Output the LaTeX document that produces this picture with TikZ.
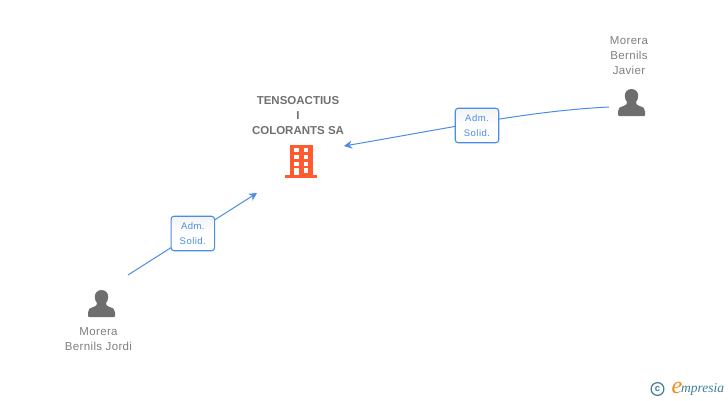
\documentclass[tikz,border=0pt]{standalone}
\usepackage{fontspec}
\setmainfont{Liberation Sans}
\newfontfamily\logofont{Liberation Serif}
\usetikzlibrary{arrows.meta}
\definecolor{linkblue}{HTML}{4A8CE6}
\definecolor{labelgrey}{HTML}{7F7F7F}
\definecolor{titlegrey}{HTML}{707070}
\definecolor{icongrey}{HTML}{6E6E6E}
\definecolor{buildorange}{HTML}{FF5A30}
\definecolor{logoteal}{HTML}{3E7F96}
\definecolor{logoorange}{HTML}{F08A1D}
\definecolor{badgetop}{HTML}{F1F3F6}
\tikzset{
  x=1pt,y=-1pt,
  every node/.style={inner sep=0pt,outer sep=0pt},
  link/.style={draw=linkblue,line width=1pt},
  linktip/.style={link,-{Stealth[length=8pt,width=8pt]}},
  badge/.style={draw=linkblue,line width=1.1pt,rounded corners=3pt,top color=badgetop,bottom color=white,middle color=white,
    minimum width=43.5pt,minimum height=34.5pt,align=center,text=linkblue,
    font=\fontsize{9.5}{15}\selectfont\addfontfeature{LetterSpace=5}},
  person/.style={align=center,text=labelgrey,font=\fontsize{11.5}{15}\selectfont\addfontfeature{LetterSpace=3}},
  title/.style={align=center,text=titlegrey,font=\fontsize{11.5}{15.3}\selectfont\bfseries},
  personicon/.pic={
    \fill[icongrey] (0,-13.5) .. controls (-4.5,-13.5) and (-6.7,-10) .. (-6.7,-6.5)
      .. controls (-6.7,-3.5) and (-5.5,-1.5) .. (-4.5,-0.5)
      .. controls (-4.5,1.5) and (-5,2.5) .. (-8,3.5)
      .. controls (-12,4.5) and (-13.5,6) .. (-13.5,9)
      -- (-13.5,12.5) .. controls (-13.5,13.2) and (-13,13.5) .. (-12.5,13.5)
      -- (12.5,13.5) .. controls (13,13.5) and (13.5,13.2) .. (13.5,12.5)
      -- (13.5,9)
      .. controls (13.5,6) and (12,4.5) .. (8,3.5)
      .. controls (5,2.5) and (4.5,1.5) .. (4.5,-0.5)
      .. controls (5.5,-1.5) and (6.7,-3.5) .. (6.7,-6.5)
      .. controls (6.7,-10) and (4.5,-13.5) .. (0,-13.5) -- cycle;
  },
}
\begin{document}
\begin{tikzpicture}
\useasboundingbox (0,0) rectangle (728,400);

% building
\fill[buildorange] (290,144.5) rectangle (312.8,175);
\fill[buildorange] (285.3,175) rectangle (317.3,178);
\foreach \yy/\hh in {147.7/4.6,154.7/4.3,161.7/3.8}{
  \fill[white] (294,\yy) rectangle (298.7,{\yy+\hh});
  \fill[white] (303.7,\yy) rectangle (308.3,{\yy+\hh});
}
\fill[white] (294,168) rectangle (298.7,175);
\fill[white] (303.7,168) rectangle (308.3,172.7);

% persons
\pic at (631.5,102.5) {personicon};
\pic at (101.5,303.5) {personicon};

% anchors
\coordinate (javierEnd) at (609,107);
\coordinate (jordiEnd) at (128,275);
\coordinate (companyRight) at (344,146);
\coordinate (companyBelow) at (257,193);

% texts
\node[title] (company) at (298,115.5) {TENSOACTIUS\\I\\COLORANTS SA};
\node[person] (javier) at (629,55.8) {Morera\\Bernils\\Javier};
\node[person] (jordi) at (98.5,339.3) {Morera\\Bernils Jordi};

% connectors
\draw[linktip] (javierEnd) .. controls (530,111) and (460,126) .. (companyRight);
\draw[linktip] (jordiEnd) -- (companyBelow);
\node[badge] (b1) at (477,125.5) {Adm.\\Solid.};
\node[badge] (b2) at (192.8,233.5) {Adm.\\Solid.};

% logo
\draw[logoteal,line width=1.2pt] (657.5,389) circle (6.4);
\node[text=logoteal,font=\fontsize{9.5}{9.5}\selectfont\bfseries] (copy) at (657.5,388.6) {c};
\node[text=logoorange,font=\logofont\itshape\fontsize{24}{24}\selectfont] (elogo) at (677,387.5) {e};
\node[text=logoteal,anchor=west,font=\logofont\itshape\fontsize{13.5}{13.5}\selectfont] (mlogo) at (681,389.5) {mpresia};
\end{tikzpicture}
\end{document}
